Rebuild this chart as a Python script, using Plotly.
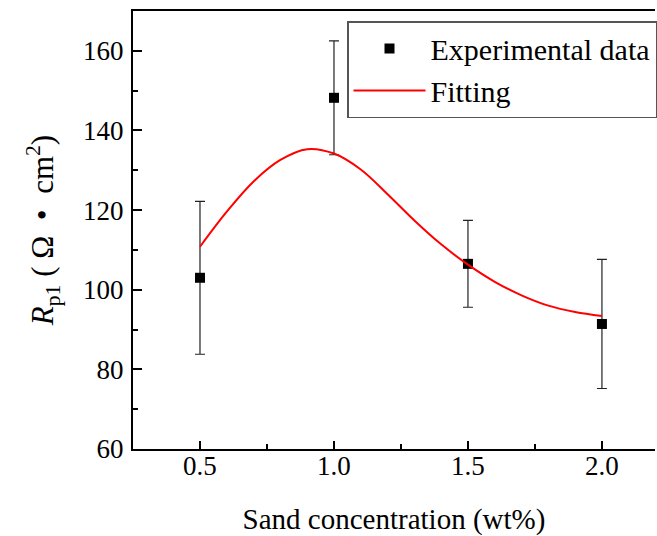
import plotly.graph_objects as go

# Experimental data
conc = [0.5, 1.0, 1.5, 2.0]
rp1 = [103.0, 148.2, 106.5, 91.4]
rp1_err = [19.2, 14.3, 10.9, 16.2]

# Fitting curve
fit_x = [0.5, 0.6, 0.7, 0.8, 0.9, 1.0, 1.1, 1.2, 1.3, 1.4, 1.5, 1.6, 1.7, 1.8, 1.9, 2.0]
fit_y = [110.8, 119.6, 127.2, 132.6, 135.3, 134.2, 130.2, 124.0, 117.4, 111.4, 106.3,
         102.0, 98.6, 96.0, 94.4, 93.4]

x_ticks = [0.5, 1.0, 1.5, 2.0]
x_tick_text = ["0.5", "1.0", "1.5", "2.0"]
y_ticks = [60, 80, 100, 120, 140, 160]

FONT = "Liberation Serif"

fig = go.Figure()
fig.add_trace(go.Scatter(
    x=conc, y=rp1, mode="markers", name="Experimental data",
    marker=dict(symbol="square", size=10, color="black"),
    error_y=dict(type="data", array=rp1_err, visible=True, color="#222222",
                 thickness=1.2, width=5),
))
fig.add_trace(go.Scatter(
    x=fit_x, y=fit_y, mode="lines", name="Fitting",
    line=dict(color="#ff0000", width=2, shape="spline", smoothing=1.0),
))

fig.update_layout(
    width=657, height=536,
    margin=dict(l=133, r=0, t=11, b=87),
    paper_bgcolor="white", plot_bgcolor="white",
    font=dict(family=FONT, size=27, color="black"),
    showlegend=True,
    legend=dict(
        x=0.41, y=0.977, xanchor="left", yanchor="top",
        bordercolor="#555555", borderwidth=1.5, bgcolor="white",
        font=dict(family=FONT, size=30, color="black"),
        itemwidth=72, tracegroupgap=0,
    ),
    xaxis=dict(
        range=[0.25, 2.198],
        tickvals=x_ticks, ticktext=x_tick_text,
        ticks="inside", ticklen=8, tickwidth=1.5, tickcolor="black",
        minor=dict(dtick=0.25, tick0=0.25, ticks="inside", ticklen=5, tickwidth=1.5, tickcolor="black"),
        showline=True, linecolor="black", linewidth=2, mirror=True,
        showgrid=False, zeroline=False,
        tickfont=dict(family=FONT, size=27),
        ticklabelstandoff=-8,
        title=dict(text="Sand concentration (wt%)", font=dict(family=FONT, size=29), standoff=30),
    ),
    yaxis=dict(
        range=[60, 170],
        tickvals=y_ticks,
        ticks="inside", ticklen=9, tickwidth=1.5, tickcolor="black",
        minor=dict(dtick=10, tick0=60, ticks="inside", ticklen=5, tickwidth=1.5, tickcolor="black"),
        showline=True, linecolor="black", linewidth=2, mirror=False,
        showgrid=False, zeroline=False,
        tickfont=dict(family=FONT, size=27),
        ticklabelstandoff=2,
        title=dict(text="<i>R</i><sub>p1</sub> ( Ω  •  cm<sup>2</sup>)", font=dict(family=FONT, size=31), standoff=20),
    ),
)

fig.write_html("out.html")
